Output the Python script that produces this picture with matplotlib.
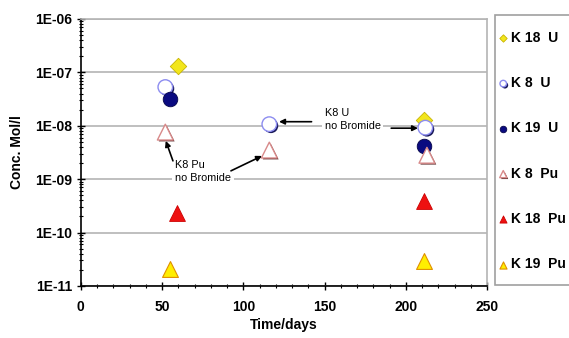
import matplotlib
matplotlib.use("Agg")
from matplotlib import pyplot as plt
from matplotlib import patheffects as pe
from matplotlib.patches import Rectangle
from matplotlib.ticker import FixedLocator, FuncFormatter, LogLocator, NullFormatter, MultipleLocator
import numpy as np

# sampling times (days) and concentrations (mol/l) per sample series
k18U_days = [60, 211]
k18U_conc = [1.3e-7, 1.3e-8]
k8U_days = [52, 116, 212]
k8U_conc = [5.3e-8, 1.07e-8, 9.2e-9]
k19U_days = [55, 211]
k19U_conc = [3.2e-8, 4.1e-9]
k8Pu_days = [52, 116, 213]
k8Pu_conc = [7.6e-9, 3.5e-9, 2.8e-9]
k18Pu_days = [59, 211]
k18Pu_conc = [2.3e-10, 3.9e-10]
k19Pu_days = [55, 211]
k19Pu_conc = [2.1e-11, 2.9e-11]

xTicks = [0, 50, 100, 150, 200, 250]
yTicks = [1e-11, 1e-10, 1e-9, 1e-8, 1e-7, 1e-6]

plt.rcParams['font.family'] = ['Liberation Sans', 'DejaVu Sans']
plt.rcParams['font.weight'] = 'bold'

W, H = 569, 338
fig = plt.figure(figsize=(W / 100, H / 100), dpi=100)
ax = fig.add_axes([0.142, 0.154, 0.714, 0.790])

shadow = [pe.SimplePatchShadow(offset=(1.2, -1.2), shadow_rgbFace='#1a1a5a', alpha=1.0), pe.Normal()]
shadowPu = [pe.SimplePatchShadow(offset=(1.0, -1.0), shadow_rgbFace='#5a2a2a', alpha=1.0), pe.Normal()]

ax.scatter(k18U_days, k18U_conc, marker='D', s=70, color='#f2e61c', edgecolors='#c8b400', linewidths=0.6, zorder=3, label='K 18  U')
s = ax.scatter(k8U_days, k8U_conc, marker='o', s=110, color='white', edgecolors='#8c8cf0', linewidths=1.0, zorder=4, label='K 8  U')
s.set_path_effects(shadow)
ax.scatter(k19U_days, k19U_conc, marker='o', s=110, color='#0a0a80', edgecolors='#05054a', linewidths=0.6, zorder=4, label='K 19  U')
s = ax.scatter(k8Pu_days, k8Pu_conc, marker='^', s=130, color='white', edgecolors='#d88a8a', linewidths=1.0, zorder=4, label='K 8  Pu')
s.set_path_effects(shadowPu)
ax.scatter(k18Pu_days, k18Pu_conc, marker='^', s=130, color='#ee1111', edgecolors='#cc0000', linewidths=0.6, zorder=4, label='K 18  Pu')
ax.scatter(k19Pu_days, k19Pu_conc, marker='^', s=130, color='#ffee00', edgecolors='#e09000', linewidths=0.8, zorder=4, label='K 19  Pu')

ax.set_yscale('log')
ax.set_xlim(0, 250)
ax.set_ylim(1e-11, 1e-6)

ax.xaxis.set_major_locator(FixedLocator(xTicks))
ax.xaxis.set_minor_locator(MultipleLocator(10))
ax.yaxis.set_major_locator(FixedLocator(yTicks))
ax.yaxis.set_minor_locator(LogLocator(base=10, subs=np.arange(2, 10)))
ax.yaxis.set_minor_formatter(NullFormatter())
ax.yaxis.set_major_formatter(FuncFormatter(lambda v, p: "1E-%02d" % round(-np.log10(v))))

ax.tick_params(axis='both', which='major', direction='inout', length=6, width=1, labelsize=10, pad=3)
ax.tick_params(axis='both', which='minor', direction='inout', length=3, width=0.8)
ax.tick_params(axis='x', pad=7)

ax.grid(axis='y', which='major', color='#b4b4b4', linewidth=1.2)
ax.set_axisbelow(True)
for side in ['top', 'right']:
    ax.spines[side].set_color('#b4b4b4')
    ax.spines[side].set_linewidth(1.2)
for side in ['left', 'bottom']:
    ax.spines[side].set_linewidth(1.2)

ax.set_ylabel('Conc. Mol/l', fontsize=10, fontweight='bold', labelpad=8)
ax.set_xlabel('Time/days', fontsize=10, fontweight='bold', labelpad=3)

# notes for the runs done without bromide
noteBox = dict(facecolor='white', edgecolor='none', pad=2)
ax.text(150, 2.15e-8, 'K8 U\nno Bromide', fontsize=7.8, fontweight='normal', va='top', ha='left',
        linespacing=1.35, bbox=noteBox, zorder=5)
ax.text(58, 2.25e-9, 'K8 Pu\nno Bromide', fontsize=7.8, fontweight='normal', va='top', ha='left',
        linespacing=1.35, bbox=noteBox, zorder=5)

arrow = dict(arrowstyle='-|>', color='black', lw=1.2, mutation_scale=8, shrinkA=0, shrinkB=0)
ax.annotate('', xy=(122, 1.19e-8), xytext=(142, 1.19e-8), arrowprops=arrow, zorder=6)
ax.annotate('', xy=(207.5, 9.0e-9), xytext=(191, 9.0e-9), arrowprops=arrow, zorder=6)
ax.annotate('', xy=(52.3, 5.2e-9), xytext=(56.7, 2.2e-9), arrowprops=arrow, zorder=6)
ax.annotate('', xy=(111.5, 2.72e-9), xytext=(92.4, 1.43e-9), arrowprops=arrow, zorder=6)

# legend box runs past the right edge of the figure
fig.patches.append(Rectangle((495 / W, 1 - 285 / H), 90 / W, 270 / H, transform=fig.transFigure,
                             facecolor='white', edgecolor='#a0a0a0', linewidth=1.2, zorder=-1))
leg = ax.legend(loc='upper left', bbox_to_anchor=(497 / W, 1 - 31 / H), bbox_transform=fig.transFigure,
                fontsize=10, labelspacing=2.25, handletextpad=0.1, handlelength=0.9, borderpad=0,
                borderaxespad=0, frameon=False, markerscale=0.45)
for t in leg.get_texts():
    t.set_fontweight('bold')

fig.savefig('out.png', dpi=100)
